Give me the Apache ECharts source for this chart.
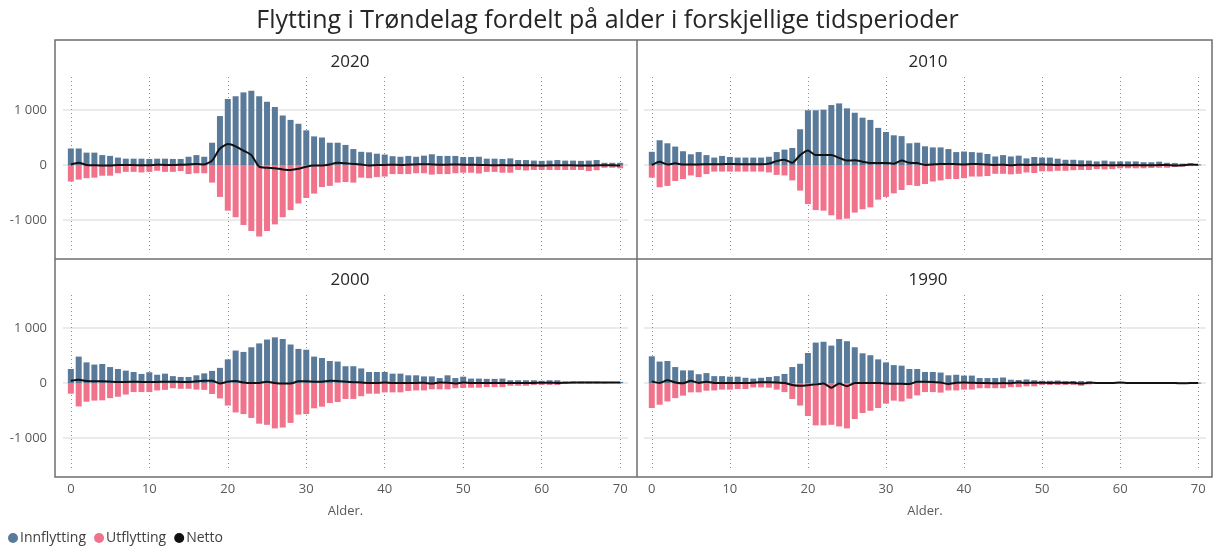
<!DOCTYPE html>
<html>
<head>
<meta charset="utf-8">
<script src="https://cdn.jsdelivr.net/npm/echarts@6/dist/echarts.min.js"></script>
<style>
  html, body { margin: 0; padding: 0; background: #fff; }
  #main { width: 1215px; height: 546px; }
</style>
</head>
<body>
<div id="main"></div>
<script>
// ages 0..70
var ages = [];
for (var a = 0; a <= 70; a++) ages.push(a);

var panelTitles = ["2020", "2010", "2000", "1990"];
var xTickLabels = [0, 10, 20, 30, 40, 50, 60, 70];
var yTickLabels = [-1000, 0, 1000];

var inn2020 = [300, 300, 225, 225, 180, 165, 135, 115, 115, 115, 110, 115, 115, 110, 110, 150, 180, 150, 405, 890,
  1200, 1250, 1320, 1350, 1250, 1150, 1055, 900, 820, 750, 630, 520, 500, 405, 405, 365,
  290, 240, 230, 205, 190, 160, 150, 165, 150, 170, 195, 165, 165, 165, 145, 145, 150, 115, 115, 110, 120, 90, 90, 80,
  75, 80, 90, 80, 80, 75, 80, 90, 40, 40, 40];
var ut2020 = [-300, -265, -240, -230, -195, -195, -150, -125, -125, -135, -125, -105, -125, -125, -110, -165, -150, -150, -320, -580,
  -830, -950, -1090, -1200, -1300, -1200, -1080, -950, -820, -700, -600, -520, -400, -380, -320, -310,
  -320, -230, -240, -220, -210, -165, -165, -165, -150, -150, -175, -165, -165, -150, -140, -140, -155, -125, -125, -140, -140, -90, -100, -90,
  -90, -90, -90, -90, -90, -90, -110, -95, -50, -50, -60];
var net2020 = [10, 40, 0, -5, -10, -10, 0, 0, 0, -5, -5, 5, 0, 0, 5, 10, 20, 10, 80, 300,
  380, 340, 260, 180, -30, -50, -60, -80, -90, -70, -30, -10, -10, 10, 40, 30,
  20, 10, -10, 0, 0, 5, 0, 5, 10, 15, 10, 5, 5, 10, 5, 5, 0, 0, -5, 0, -5, 0, -5, -5,
  -10, -5, -5, -5, -5, -10, -10, -5, -5, -5, -10];

var inn2010 = [240, 450, 395, 335, 250, 195, 235, 180, 135, 165, 145, 135, 135, 135, 135, 150, 235, 280, 310, 650,
  995, 995, 1005, 1090, 1120, 1030, 950, 860, 820, 675, 600, 540, 525, 395, 405, 340,
  320, 320, 290, 235, 245, 235, 225, 200, 155, 180, 155, 170, 120, 145, 135, 135, 115, 95, 95, 85, 80, 65, 80, 65,
  65, 65, 65, 50, 50, 60, 40, 35, 25, 30, 10];
var ut2010 = [-230, -405, -380, -290, -255, -190, -220, -165, -120, -120, -120, -120, -120, -120, -120, -135, -180, -190, -280, -465,
  -710, -820, -830, -915, -990, -975, -865, -805, -770, -630, -580, -515, -455, -365, -380, -345,
  -300, -280, -255, -255, -240, -210, -210, -200, -160, -160, -170, -160, -135, -145, -115, -115, -105, -105, -95, -90, -90, -75, -80, -75,
  -60, -60, -60, -60, -55, -50, -50, -35, -30, -20, -10];
var net2010 = [0, 60, 10, 30, 10, 10, 10, 15, 15, 15, 20, 15, 15, 15, 15, 25, 70, 95, 40, 180,
  265, 180, 180, 180, 130, 80, 85, 60, 35, 35, 35, 25, 80, 40, 35, 0,
  10, 20, 20, 15, 10, 20, 15, 10, 0, 5, -5, 5, 0, 5, 10, 5, 0, 5, 0, -5, 0, -5, 0, -5,
  0, -5, 0, -5, -5, 0, 0, -10, -5, 10, 5];

var inn2000 = [255, 480, 375, 335, 345, 290, 255, 225, 200, 165, 195, 150, 170, 125, 110, 110, 140, 175, 220, 275,
  430, 590, 565, 650, 720, 790, 830, 800, 700, 620, 605, 480, 455, 400, 390, 305,
  305, 265, 200, 200, 200, 170, 170, 140, 140, 120, 120, 90, 140, 90, 115, 80, 80, 75, 75, 80, 50, 50, 50, 50,
  40, 50, 50, 25, 25, 25, 25, 25, 20, 20, 20];
var ut2000 = [-195, -425, -340, -320, -315, -275, -250, -210, -165, -165, -165, -135, -125, -95, -105, -105, -120, -125, -200, -280,
  -410, -535, -565, -635, -740, -760, -825, -810, -725, -575, -565, -460, -430, -365, -345, -290,
  -290, -240, -195, -195, -170, -170, -170, -145, -135, -135, -115, -115, -115, -95, -90, -85, -85, -75, -75, -75, -50, -50, -50, -35,
  -35, -35, -35, -10, -10, -10, -10, -10, -10, -5, -5];
var net2000 = [40, 60, 35, 30, 30, 25, 20, 20, 25, 20, 20, 20, 25, 25, 20, 20, 30, 40, 40, -10,
  25, 35, 10, 0, 0, 25, 0, -10, -10, 30, 30, 25, 25, 40, 35, 25,
  15, 10, 0, 0, 10, 0, 0, 0, 0, 5, -10, 10, 5, -10, 10, 0, 0, 0, 0, 0, 0, 0, 0, 0,
  5, 5, 0, 5, 10, 10, 10, 10, 10, 10, 10];

var inn1990 = [485, 390, 400, 290, 230, 230, 160, 180, 125, 125, 115, 115, 95, 80, 95, 110, 125, 165, 290, 350,
  545, 735, 750, 680, 800, 760, 650, 540, 505, 430, 375, 325, 315, 255, 255, 200,
  200, 190, 140, 150, 135, 135, 90, 90, 90, 100, 60, 55, 65, 50, 40, 40, 45, 35, 35, 35, 30, 10, 10, 10,
  20, 10, 10, 10, 10, 10, 10, 15, 5, 5, 5];
var ut1990 = [-455, -395, -335, -275, -230, -170, -170, -140, -135, -120, -120, -110, -110, -80, -80, -85, -120, -165, -290, -410,
  -600, -770, -770, -760, -790, -825, -655, -545, -505, -455, -375, -320, -335, -285, -225, -165,
  -165, -175, -135, -135, -120, -120, -95, -95, -95, -95, -75, -75, -60, -60, -35, -35, -35, -35, -35, -50, -25, -15, -15, -15,
  -5, -15, -15, -15, -15, -15, -15, -15, -15, -15, -15];
var net1990 = [30, 0, 50, 10, -5, 40, 0, 25, 0, 0, 0, 0, 0, 5, 15, 15, 10, 0, -35, -50,
  -40, -25, -10, -85, -10, -60, 0, 0, 0, 0, -10, -15, -15, -20, 25, 25,
  20, 10, -20, 5, 10, 5, 0, 0, -5, 0, -5, 10, 0, 5, 5, 0, 5, 0, 5, -10, 5, 0, 0, 0,
  10, 0, 0, 0, 0, 0, 0, 0, -5, 0, 0];

var innData = [inn2020, inn2010, inn2000, inn1990];
var utData = [ut2020, ut2010, ut2000, ut1990];
var netData = [net2020, net2010, net2000, net1990];

var blue = "#5a7a9a";
var pink = "#f0728b";

var grids = [
  { left: 63, top: 77, width: 565, height: 176 },
  { left: 644, top: 77, width: 562, height: 176 },
  { left: 63, top: 295, width: 565, height: 176 },
  { left: 644, top: 295, width: 562, height: 176 },
];
var titlePos = [[350, 62], [928, 62], [350, 280], [928, 280]];

function fmtNum(v) {
  var s = String(Math.abs(v)).replace(/\B(?=(\d{3})+(?!\d))/g, " ");
  return (v < 0 ? "-" : "") + s;
}

// dotted vertical lines only on ages 0,10,..,70 (ticks from -1 step 1)
var vLineColors = [];
for (var k = 0; k < 10; k++) vLineColors.push(k === 1 ? "#8c8c8c" : "rgba(0,0,0,0)");
// horizontal lines only on -1000, 0, 1000 (ticks from -1600 step 200)
var hLineColors = ["rgba(0,0,0,0)", "rgba(0,0,0,0)", "rgba(0,0,0,0)", "#e4e4e4", "rgba(0,0,0,0)"];

var xAxes = [], yAxes = [], series = [], graphics = [];
grids.forEach(function (g, i) {
  xAxes.push({
    type: "value",
    gridIndex: i,
    min: -1,
    max: 71,
    interval: 1,
    axisLine: { show: false },
    axisTick: { show: false },
    axisLabel: {
      show: i >= 2,
      margin: 12,
      fontSize: 13,
      color: "#595959",
      fontFamily: "Open Sans",
      formatter: function (v) {
        return xTickLabels.indexOf(v) >= 0 ? String(v) : "";
      },
    },
    splitLine: {
      show: true,
      lineStyle: { color: vLineColors, type: [1, 3], width: 1 },
    },
    name: i >= 2 ? "Alder." : "",
    nameLocation: "middle",
    nameGap: 34,
    nameTextStyle: { fontSize: 13, color: "#595959", fontFamily: "Open Sans" },
  });
  yAxes.push({
    type: "value",
    gridIndex: i,
    min: -1600,
    max: 1600,
    interval: 200,
    axisLine: { show: false },
    axisTick: { show: false },
    axisLabel: {
      show: i % 2 === 0,
      margin: 16,
      fontSize: 13,
      color: "#595959",
      fontFamily: "Open Sans",
      formatter: function (v) {
        return yTickLabels.indexOf(v) >= 0 ? fmtNum(v) : "";
      },
    },
    splitLine: {
      show: true,
      lineStyle: { color: hLineColors, width: 1.5 },
    },
  });
  series.push({
    name: "Innflytting",
    type: "bar",
    xAxisIndex: i,
    yAxisIndex: i,
    barWidth: 6,
    barGap: "-100%",
    itemStyle: { color: blue },
    data: ages.map(function (a, j) { return [a, innData[i][j]]; }),
  });
  series.push({
    name: "Utflytting",
    type: "bar",
    xAxisIndex: i,
    yAxisIndex: i,
    barWidth: 6,
    barGap: "-100%",
    itemStyle: { color: pink },
    data: ages.map(function (a, j) { return [a, utData[i][j]]; }),
  });
  series.push({
    name: "Netto",
    type: "line",
    xAxisIndex: i,
    yAxisIndex: i,
    symbol: "none",
    smooth: 0.2,
    z: 4,
    itemStyle: { color: "#111" },
    lineStyle: { color: "#111", width: 2 },
    data: ages.map(function (a, j) { return [a, netData[i][j]]; }),
  });
  graphics.push({
    type: "text",
    x: titlePos[i][0],
    y: titlePos[i][1],
    style: {
      text: panelTitles[i],
      fill: "#262626",
      font: "17px 'Open Sans'",
      align: "center",
      verticalAlign: "middle",
      textAlign: "center",
      textVerticalAlign: "middle",
    },
  });
});

// panel frames
graphics.push({
  type: "rect",
  shape: { x: 55, y: 40, width: 1157, height: 437 },
  style: { fill: "none", stroke: "#6e6e6e", lineWidth: 1.5 },
});
graphics.push({
  type: "line",
  shape: { x1: 637, y1: 40, x2: 637, y2: 477 },
  style: { stroke: "#6e6e6e", lineWidth: 1.5 },
});
graphics.push({
  type: "line",
  shape: { x1: 55, y1: 259, x2: 1212, y2: 259 },
  style: { stroke: "#6e6e6e", lineWidth: 1.5 },
});

var myChart = echarts.init(document.getElementById("main"));
myChart.setOption({
  animation: false,
  backgroundColor: "#fff",
  textStyle: { fontFamily: "Open Sans" },
  title: {
    text: "Flytting i Trøndelag fordelt på alder i forskjellige tidsperioder",
    left: "center",
    top: 3,
    textStyle: { fontSize: 25, fontWeight: "normal", color: "#262626", fontFamily: "Open Sans" },
  },
  legend: {
    data: ["Innflytting", "Utflytting", "Netto"],
    left: 3,
    top: 526,
    icon: "circle",
    itemWidth: 10,
    itemHeight: 10,
    itemGap: 8,
    textStyle: { fontSize: 14, color: "#404040", padding: [0, 0, 0, -3] },
  },
  grid: grids,
  xAxis: xAxes,
  yAxis: yAxes,
  series: series,
  graphic: graphics,
});
</script>
</body>
</html>
